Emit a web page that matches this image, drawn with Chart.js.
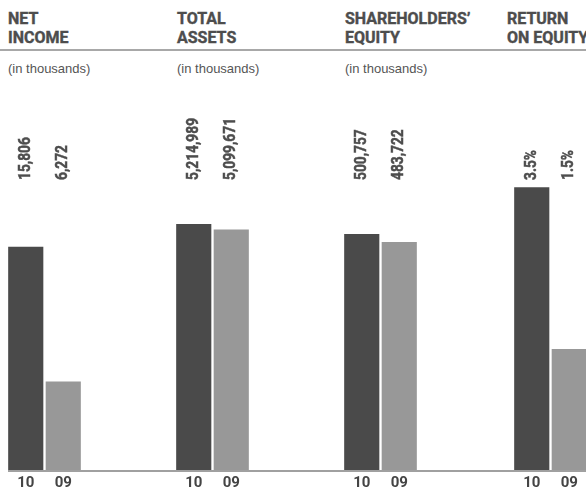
<!DOCTYPE html>
<html>
<head>
<meta charset="utf-8">
<script src="https://cdn.jsdelivr.net/npm/chart.js@4"></script>
<style>
  html, body { margin: 0; padding: 0; background: #fff; }
  body { width: 586px; height: 490px; position: relative; overflow: hidden; }
  .head { position: absolute; top: 9px; font: bold 16px/19px Roboto, sans-serif; color: #4d4d4d; -webkit-text-stroke: 0.4px #4d4d4d; text-transform: uppercase; white-space: nowrap; }
  .sub { position: absolute; top: 61px; font: 13px "Liberation Sans", Arial, sans-serif; color: #555; }
  .rule { position: absolute; left: 0; top: 49px; width: 586px; height: 2px; background: #a8a8a8; }
  .axis { position: absolute; left: 8px; top: 470px; width: 578px; height: 2px; background: #a0a0a0; z-index: 2; }
  .panel { position: absolute; top: 100px; width: 75px; height: 396px; }
</style>
</head>
<body>
<div class="rule"></div>
<div class="axis"></div>

<script>
'use strict'

const years = ['10', '09']
const titles = [['NET', 'INCOME'], ['TOTAL', 'ASSETS'], ['SHAREHOLDERS\u2019', 'EQUITY'], ['RETURN', 'ON EQUITY']]
const subtitles = ['(in thousands)', '(in thousands)', '(in thousands)', '']
const netIncome = [15806, 6272]
const totalAssets = [5214989, 5099671]
const equity = [500757, 483722]
const roe = [3.5, 1.5]
const valueLabels = [['15,806', '6,272'], ['5,214,989', '5,099,671'], ['500,757', '483,722'], ['3.5%', '1.5%']]
const axisMax = [21190, 6347000, 635200, 3.704]

const series = [netIncome, totalAssets, equity, roe]
const headLeft = [8, 177, 345, 507]
const panelLeft = [7, 175, 343, 513]
const barColors = ['#4a4a4a', '#989898']

// rotated value labels, all on one baseline row above the bars
const valuePlugin = {
  id: 'values',
  afterDatasetsDraw(chart, args, opts) {
    const ctx = chart.ctx
    const meta = chart.getDatasetMeta(0)
    ctx.save()
    ctx.fillStyle = '#4d4d4d'
    ctx.strokeStyle = '#4d4d4d'
    ctx.lineWidth = 0.5
    ctx.font = 'bold 16px Roboto, sans-serif'
    ctx.textAlign = 'left'
    ctx.textBaseline = 'middle'
    meta.data.forEach((bar, i) => {
      ctx.save()
      ctx.translate(bar.x, 80)
      ctx.rotate(-Math.PI / 2)
      ctx.scale(0.86, 1)
      ctx.fillText(opts.labels[i], 0, 0)
      ctx.strokeText(opts.labels[i], 0, 0)
      ctx.restore()
    })
    ctx.restore()
  }
}

series.forEach((values, p) => {
  const head = document.createElement('div')
  head.className = 'head'
  head.style.left = headLeft[p] + 'px'
  head.innerHTML = titles[p].join('<br>')
  document.body.appendChild(head)

  const sub = document.createElement('div')
  sub.className = 'sub'
  sub.style.left = headLeft[p] + 'px'
  sub.textContent = subtitles[p]
  document.body.appendChild(sub)

  const wrap = document.createElement('div')
  wrap.className = 'panel'
  wrap.style.left = panelLeft[p] + 'px'
  const canvas = document.createElement('canvas')
  wrap.appendChild(canvas)
  document.body.appendChild(wrap)

  new Chart(canvas, {
    type: 'bar',
    data: {
      labels: years,
      datasets: [{
        data: values,
        backgroundColor: barColors,
        barThickness: 34.5
      }]
    },
    options: {
      responsive: true,
      maintainAspectRatio: false,
      animation: false,
      layout: { padding: { top: 71, left: 0, right: 0, bottom: 0 } },
      plugins: {
        legend: { display: false },
        tooltip: { enabled: false },
        values: { labels: valueLabels[p] }
      },
      scales: {
        x: {
          grid: { display: false, drawTicks: false },
          border: { display: false },
          ticks: {
            color: '#444',
            padding: 3.75,
            maxRotation: 0,
            font: { family: 'Roboto, sans-serif', size: 15, weight: 'bold' }
          }
        },
        y: {
          display: false,
          min: 0,
          max: axisMax[p]
        }
      }
    },
    plugins: [valuePlugin]
  })
})
</script>
</body>
</html>
